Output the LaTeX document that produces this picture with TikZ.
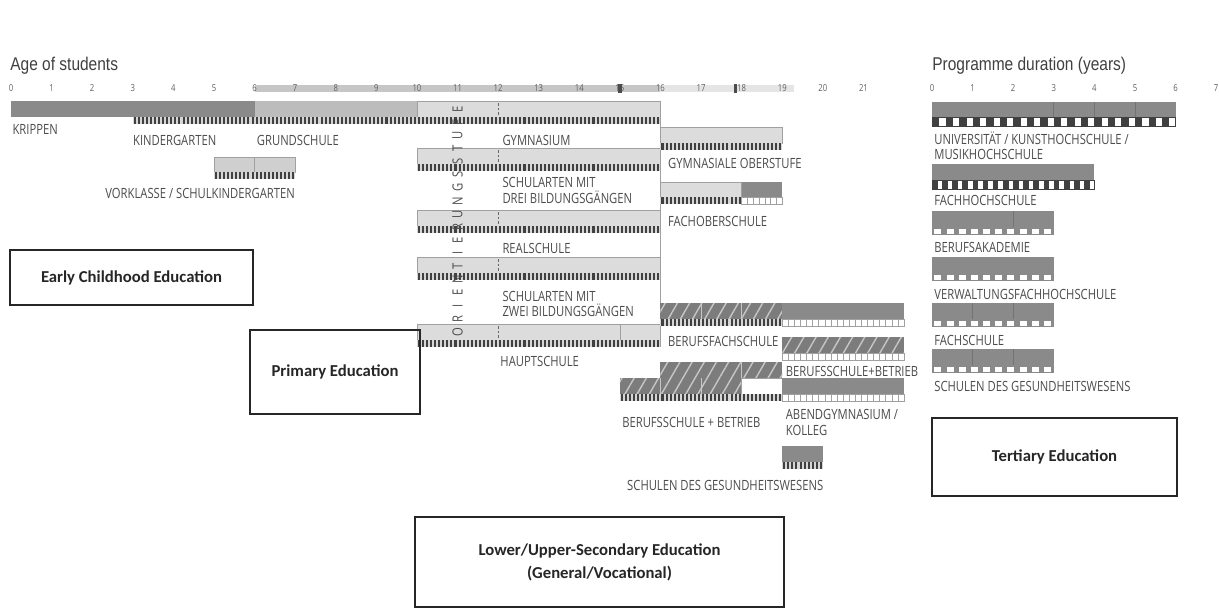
\documentclass[tikz,border=0pt]{standalone}
\usepackage{fontspec}
\setmainfont{Open Sans}
\newfontfamily\condfont[FakeStretch=0.8]{Open Sans}
\newfontfamily\headfont[FakeStretch=0.84]{Liberation Sans}
\newfontfamily\boxfont{Carlito}
\usepackage{tikz}
\usetikzlibrary{patterns.meta}

\definecolor{bardark}{HTML}{8A8A8A}
\definecolor{barmid}{HTML}{BCBCBC}
\definecolor{barlight}{HTML}{DCDCDC}
\definecolor{barline}{HTML}{A0A0A0}
\definecolor{stripedark}{HTML}{404040}
\definecolor{stripebg}{HTML}{D6D6D6}
\definecolor{hatchbg}{HTML}{7C7C7C}
\definecolor{hatchline}{HTML}{C6C6C6}
\definecolor{labeltext}{HTML}{4C4C4C}

% row of dark stripes: from, to (years), top (px)
\newcommand\darkrow[3]{%
  \fill[stripebg] (#1,{#3}) rectangle (#2,{#3+7});
  \pgfmathtruncatemacro\nstr{round((#2-#1)*10)-1}
  \foreach \k in {0,...,\nstr}
    \fill[stripedark] ({#1+\k*0.1+0.025},{#3}) rectangle ({#1+\k*0.1+0.075},{#3+7});
}
% row of open boxes
\newcommand\lightrow[3]{%
  \filldraw[fill=white, draw=barline, line width=0.4pt] (#1,{#3}) rectangle (#2,{#3+7});
  \pgfmathtruncatemacro\nlgt{round((#2-#1)/0.15)-1}
  \foreach \k in {1,...,\nlgt}
    \draw[barline, line width=0.4pt] ({#1+\k*(#2-#1)/(\nlgt+1)},{#3}) -- ++(0,7);
}
% dark squares on white: from, to, top, squares per year
\newcommand\checkdark[4]{%
  \filldraw[fill=white, draw=stripedark, line width=0.4pt] (#1,{#3}) rectangle (#2,{#3+9});
  \pgfmathtruncatemacro\nchk{round((#2-#1)*#4)-1}
  \foreach \k in {0,...,\nchk}
    \fill[stripedark] ({#1+\k/#4},{#3}) rectangle ({#1+(\k+0.55)/#4},{#3+9});
}
% white squares on grey
\newcommand\checklight[4]{%
  \fill[bardark] (#1,{#3}) rectangle (#2,{#3+8});
  \pgfmathtruncatemacro\nchk{round((#2-#1)*#4)-1}
  \foreach \k in {0,...,\nchk}
    \fill[white] ({#1+(\k+0.2)/#4},{#3+1.5}) rectangle ({#1+(\k+0.78)/#4},{#3+6.5});
}

\begin{document}
\begin{tikzpicture}[
    x=0.02cm, y=-0.02cm,
    lbl/.style={font=\condfont\fontsize{8}{8.6}\selectfont, text=labeltext, inner sep=0pt, anchor=west, align=left},
    tick/.style={font=\condfont\fontsize{5.5}{6}\selectfont, text=gray!75!black, inner sep=0pt},
    head/.style={font=\headfont\fontsize{10.5}{12}\selectfont, text=black!75, inner sep=0pt, anchor=west},
    orient/.style={font=\condfont\fontsize{8}{8}\selectfont, text=labeltext, rotate=90, inner sep=0pt},
    secbox/.style={draw=black!85, line width=1.4pt, font=\boxfont\bfseries\fontsize{9.5}{13}\selectfont, align=center, text=black!85},
    lightbar/.style={fill=barlight, draw=barline, line width=0.4pt},
    hatchbar/.style={fill=hatchbg, postaction={pattern={Lines[angle=60,distance=6pt,line width=0.8pt]}, pattern color=hatchline}}
]
    \useasboundingbox (0,0) rectangle (1219,612);
    \fill[white] (0,0) rectangle (1219,612);

    \node[head] (agetitle) at (10,66) {Age of students};
    \node[head] (durtitle) at (932,66) {Programme duration (years)};

    % age of students
    \begin{scope}[shift={(11,0)}, x=0.812cm]
        \fill[gray!45] (6,85) rectangle (16,92);
        \fill[gray!20] (16,85) rectangle (19.3,92);
        \foreach \a in {0,...,21}
            \node[tick] (age\a) at (\a,88) {\a};
        \fill[black!70] (14.96,84) rectangle (15.04,93);
        \fill[black!70] (17.8,84) rectangle (17.88,93);

        \fill[bardark] (0,101) rectangle (6,117);
        \fill[barmid] (6,101) rectangle (10,117);
        \darkrow{3}{10}{117}

        \filldraw[lightbar, fill=gray!38] (5,157) rectangle (7,172);
        \draw[barline] (6,157) -- (6,172);
        \darkrow{5}{7}{172}

        \foreach \t in {101,148,210,257,324}{
            \filldraw[lightbar] (10,\t) rectangle (16,{\t+16});
            \draw[black!60, dash pattern=on 1.5pt off 1.2pt] (12,{\t+2}) -- (12,{\t+14});
            \darkrow{10}{16}{\t+16}
        }
        \draw[barline] (15,324) -- (15,340);
        \draw[barline] (16,101) -- (16,347);

        \foreach \l [count=\i] in {O,R,I,E,N,T,I,E,R,U,N,G,S,S,T,U,F,E}
            \node[orient] (or\i) at (11,{345-13.1*\i}) {\l};

        \filldraw[lightbar] (16,127) rectangle (19,143);
        \darkrow{16}{19}{143}

        \filldraw[lightbar] (16,182) rectangle (18,197);
        \fill[bardark] (18,182) rectangle (19,197);
        \darkrow{16}{18}{197}
        \lightrow{18}{19}{197}

        \fill[hatchbar] (16,303) rectangle (19,319);
        \draw[hatchline] (17,303) -- (17,319) (18,303) -- (18,319);
        \fill[bardark] (19,303) rectangle (22,319);
        \darkrow{16}{19}{319}
        \lightrow{19}{22}{319}

        \fill[hatchbar] (19,337) rectangle (22,353);
        \lightrow{19}{22}{353}

        \fill[hatchbar] (16,362) rectangle (19,378);
        \draw[hatchline] (18,362) -- (18,378);
        \fill[hatchbar] (15,378) rectangle (18,394);
        \draw[hatchline] (16,378) -- (16,394) (17,378) -- (17,394);
        \filldraw[fill=white, draw=barline] (18,378) rectangle (19,394);
        \fill[bardark] (19,378) rectangle (22,394);
        \darkrow{15}{19}{394}
        \lightrow{19}{22}{394}

        \fill[bardark] (19,446) rectangle (20,462);
        \darkrow{19}{20}{462}

        \node[lbl] (krippen) at (0.03,129) {KRIPPEN};
        \node[lbl] (kiga) at (3,140) {KINDERGARTEN};
        \node[lbl] (grund) at (6.05,140) {GRUNDSCHULE};
        \node[lbl, anchor=east] (vorkl) at (7,193) {VORKLASSE / SCHULKINDERGARTEN};
        \node[lbl] (gym) at (12.1,140) {GYMNASIUM};
        \node[lbl] (drei) at (12.1,190.5) {SCHULARTEN MIT\\DREI BILDUNGSGÄNGEN};
        \node[lbl] (real) at (12.1,248) {REALSCHULE};
        \node[lbl] (zwei) at (12.1,304) {SCHULARTEN MIT\\ZWEI BILDUNGSGÄNGEN};
        \node[lbl] (haupt) at (12.05,361) {HAUPTSCHULE};
        \node[lbl] (oberst) at (16.18,163) {GYMNASIALE OBERSTUFE};
        \node[lbl] (fos) at (16.18,221) {FACHOBERSCHULE};
        \node[lbl] (bfs) at (16.18,341) {BERUFSFACHSCHULE};
        \node[lbl] (bsb) at (19.08,371) {BERUFSSCHULE+BETRIEB};
        \node[lbl] (dual) at (15.05,422) {BERUFSSCHULE + BETRIEB};
        \node[lbl] (abend) at (19.08,422.5) {ABENDGYMNASIUM /\\KOLLEG};
        \node[lbl, anchor=east] (gesund) at (20.02,485) {SCHULEN DES GESUNDHEITSWESENS};
    \end{scope}

    % programme duration
    \begin{scope}[shift={(932,0)}, x=0.812cm]
        \foreach \a in {0,...,7}
            \node[tick] (dur\a) at (\a,88) {\a};

        \fill[bardark] (0,102) rectangle (6,117);
        \draw[black!55] (3,102) -- (3,117) (4,102) -- (4,117) (5,102) -- (5,117);
        \checkdark{0}{6}{117}{3}

        \fill[bardark] (0,164) rectangle (4,180);
        \checkdark{0}{4}{180}{4}

        \fill[bardark] (0,211) rectangle (3,227);
        \draw[black!55] (2,211) -- (2,227);
        \checklight{0}{3}{227}{3.34}

        \fill[bardark] (0,257) rectangle (3,273);
        \checklight{0}{3}{273}{3.34}

        \fill[bardark] (0,303) rectangle (3,319);
        \draw[black!55] (1,303) -- (1,319) (2,303) -- (2,319);
        \checklight{0}{3}{319}{3.34}

        \fill[bardark] (0,349) rectangle (3,365);
        \draw[black!55] (1,349) -- (1,365) (2,349) -- (2,365);
        \checklight{0}{3}{365}{3.34}

        \node[lbl] (uni) at (0.05,146) {UNIVERSITÄT / KUNSTHOCHSCHULE /\\MUSIKHOCHSCHULE};
        \node[lbl] (fh) at (0.05,200) {FACHHOCHSCHULE};
        \node[lbl] (ba) at (0.05,247) {BERUFSAKADEMIE};
        \node[lbl] (vfh) at (0.05,294) {VERWALTUNGSFACHHOCHSCHULE};
        \node[lbl] (fs) at (0.05,340) {FACHSCHULE};
        \node[lbl] (sdg) at (0.05,386) {SCHULEN DES GESUNDHEITSWESENS};
    \end{scope}

    % education levels
    \node[secbox, minimum width=4.86cm, minimum height=1.1cm] (early) at (131.5,277.5) {Early Childhood Education};
    \node[secbox, minimum width=3.4cm, minimum height=1.68cm] (primary) at (335,372) {Primary Education};
    \node[secbox, minimum width=7.38cm, minimum height=1.8cm] (secondary) at (599.5,562) {Lower/Upper-Secondary Education\\(General/Vocational)};
    \node[secbox, minimum width=4.9cm, minimum height=1.56cm] (tertiary) at (1054.5,457) {Tertiary Education};
\end{tikzpicture}
\end{document}
